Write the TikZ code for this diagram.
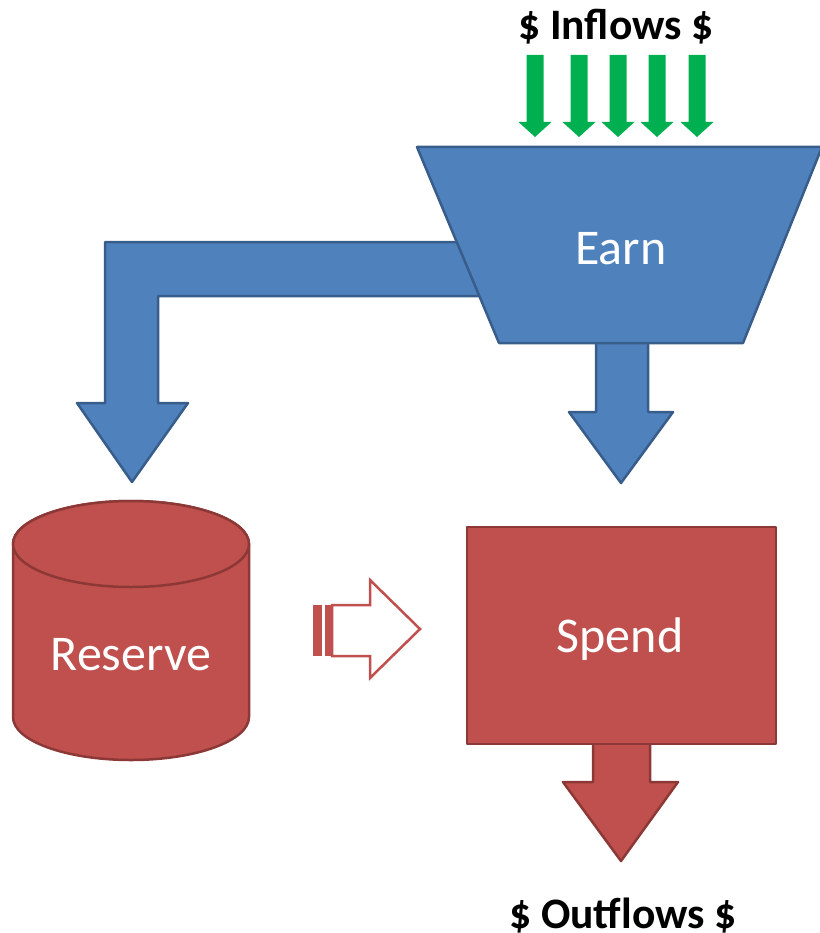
\documentclass[tikz,border=0pt]{standalone}
\usepackage{fontspec}
\setmainfont{Carlito}
\definecolor{blueFill}{HTML}{4F81BD}
\definecolor{blueLine}{HTML}{385D8A}
\definecolor{redFill}{HTML}{C0504D}
\definecolor{redLine}{HTML}{8C3836}
\definecolor{greenFill}{HTML}{00B050}
\tikzset{
  bluebody/.style={fill=blueFill, draw=blueLine, line width=2.5pt, line join=round},
  redbody/.style={fill=redFill, draw=redLine, line width=2.5pt, line join=round},
  inflowarrow/.style={fill=greenFill, draw=none},
  boxlabel/.style={text=white, font=\fontsize{50}{60}\selectfont, anchor=base, inner sep=0pt},
  flowlabel/.style={text=black, font=\bfseries\fontsize{43.5}{50}\selectfont, anchor=base, inner sep=0pt},
}
\begin{document}
\begin{tikzpicture}[x=1pt, y=-1pt]
\useasboundingbox (0,0) rectangle (819,933);

% green inflow arrows
\foreach \cx [count=\i] in {535,579,618,657,697} {
  \path[inflowarrow] (\cx-8.5,55) -- (\cx+8.5,55) -- (\cx+8.5,122) -- (\cx+16.5,122)
    -- (\cx,137) coordinate (in\i) -- (\cx-16.5,122) -- (\cx-8.5,122) -- cycle;
}
\node[flowlabel] (inflows) at (616,40) {\$ Inflows \$};

% elbow arrow from Earn down to Reserve
\draw[bluebody] (485,242) -- (105,242) -- (105,403) -- (77,403) -- (132,482) coordinate (tipres)
  -- (188,403) -- (158,403) -- (158,296) -- (485,296) -- cycle;
% straight arrow from Earn down to Spend
\draw[bluebody] (596,335) -- (596,412) -- (569,412) -- (621,483) coordinate (tipspend)
  -- (673,412) -- (648,412) -- (648,335) -- cycle;

% Earn funnel
\draw[bluebody] (417,147) -- (822,147) -- (743,343) -- (499,343) -- cycle;
\node[boxlabel] (earn) at (621,264) {Earn};

% outflow arrow below Spend
\draw[redbody] (593,735) -- (593,782) -- (563,782) -- (621,861) coordinate (tipout)
  -- (678,782) -- (650,782) -- (650,735) -- cycle;
% Spend box
\draw[redbody] (467,527) rectangle (776,744);
\node[boxlabel] (spend) at (620,652) {Spend};
\node[flowlabel] (outflows) at (623,928) {\$ Outflows \$};

% Reserve cylinder
\draw[redbody] (13,544) -- (13,717)
  arc[start angle=180, end angle=360, x radius=118pt, y radius=43pt]
  -- (249,544)
  arc[start angle=0, end angle=180, x radius=118pt, y radius=43pt] -- cycle;
\draw[redbody] (131,544) ellipse [x radius=118pt, y radius=43pt];
\node[boxlabel] (reserve) at (131,670) {Reserve};

% striped transfer arrow from Reserve to Spend
\fill[redFill] (313,605) rectangle (322,656);
\fill[redFill] (325,605) rectangle (332,656);
\draw[draw=redFill, fill=white, line width=2.5pt, line join=miter]
  (332,605) -- (370,605) -- (370,580) -- (420,629) coordinate (tiptransfer)
  -- (370,678) -- (370,656) -- (332,656) -- cycle;
\end{tikzpicture}
\end{document}
